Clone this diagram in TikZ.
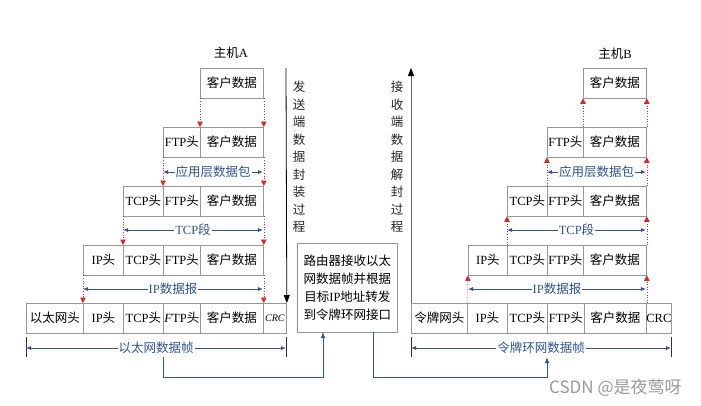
\documentclass[tikz,border=0pt]{standalone}
\usepackage{fontspec}
\setmainfont{Liberation Serif}
\newfontfamily\cjk{Noto Sans CJK SC}
\usetikzlibrary{arrows.meta}
\definecolor{dimblue}{RGB}{46,84,150}
\definecolor{boxgray}{RGB}{150,150,150}
\definecolor{reddot}{RGB}{215,40,40}
\newcommand\zh[1]{{\cjk #1}}
\newcommand\cellat[5]{\node[cell, minimum width={#3pt-#2pt}] (#1) at (#2,#4) {#5};}
\begin{document}
\begin{tikzpicture}[x=1pt,y=-1pt,
  cell/.style={draw=boxgray, line width=0.8pt, inner sep=0pt, anchor=north west, minimum height=29.5pt, font=\fontsize{12.5}{14}\selectfont},
  reddash/.style={draw=reddot, dotted, line width=0.6pt, -{Triangle[width=5.5pt,length=5.5pt,fill=reddot]}},
  dim/.style={draw=dimblue, line width=0.8pt, {Latex[length=5pt,width=4pt]}-{Latex[length=5pt,width=4pt]}},
  dimlabel/.style={fill=white, text=dimblue, inner xsep=1pt, inner ysep=0pt, font=\fontsize{12.5}{14}\selectfont},
  conn/.style={draw=dimblue, line width=0.8pt, -{Latex[length=6pt,width=4.5pt]}},
  tick/.style={draw=black!80, line width=0.7pt},
  vtext/.style={align=center, inner sep=0pt, anchor=north, font=\fontsize{12.5}{17.5}\selectfont\cjk, text=black!85},
  title/.style={font=\fontsize{12.5}{14}\selectfont, inner sep=0pt},
  mainarrow/.style={line width=0.8pt, -{Triangle[width=6pt,length=8pt,black]}}
]
\useasboundingbox[fill=white] (0,0) rectangle (701,405);

% ---------------- Host A ----------------
\node[title] (hostA) at (231,53) {\zh{主机}A};
\cellat{a1d}{200}{263}{68}{\zh{客户数据}}
\cellat{a2f}{163}{200}{127}{FTP\zh{头}}
\cellat{a2d}{200}{263}{127}{\zh{客户数据}}
\cellat{a3t}{123}{163}{186}{TCP\zh{头}}
\cellat{a3f}{163}{200}{186}{FTP\zh{头}}
\cellat{a3d}{200}{263}{186}{\zh{客户数据}}
\cellat{a4i}{83}{123}{245}{IP\zh{头}}
\cellat{a4t}{123}{163}{245}{TCP\zh{头}}
\cellat{a4f}{163}{200}{245}{FTP\zh{头}}
\cellat{a4d}{200}{263}{245}{\zh{客户数据}}
\cellat{a5e}{26}{83}{303}{\zh{以太网头}}
\cellat{a5i}{83}{123}{303}{IP\zh{头}}
\cellat{a5t}{123}{163}{303}{TCP\zh{头}}
\cellat{a5f}{163}{200}{303}{\textit{F}TP\zh{头}}
\cellat{a5d}{200}{263}{303}{\zh{客户数据}}
\cellat{a5c}{263}{286}{303}{\fontsize{10}{12}\selectfont\textit{CRC}}

\draw[reddash] (a1d.south west) -- (a2d.north west);
\draw[reddash] (a1d.south east) -- (a2d.north east);
\draw[reddash] (a2f.south west) -- (a3f.north west);
\draw[reddash] (a2d.south east) -- (a3d.north east);
\draw[reddash] (a3t.south west) -- (a4t.north west);
\draw[reddash] (a3d.south east) -- (a4d.north east);
\draw[reddash] (a4i.south west) -- (a5i.north west);
\draw[reddash] (a4d.south east) -- (a5d.north east);

\coordinate (la1) at (163,172); \coordinate (ra1) at (263,172);
\coordinate (la2) at (123,230); \coordinate (ra2) at (263,230);
\coordinate (la3) at (83,289);  \coordinate (ra3) at (263,289);
\draw[dim] (la1) -- (ra1) node[midway, dimlabel] (lblA1) {\zh{应用层数据包}};
\draw[dim] (la2) -- (ra2) node[midway, dimlabel] (lblA2) {TCP\zh{段}};
\draw[dim] (la3) -- (ra3) node[midway, dimlabel] (lblA3) {IP\zh{数据报}};

\coordinate (ta1) at (26,337); \coordinate (tb1) at (26,357);
\coordinate (ta2) at (286,337); \coordinate (tb2) at (286,357);
\draw[tick] (ta1) -- (tb1);
\draw[tick] (ta2) -- (tb2);
\coordinate (la4) at (26,348); \coordinate (ra4) at (286,348);
\draw[dim] (la4) -- (ra4) node[midway, dimlabel] (lblA4) {\zh{以太网数据帧}};

\coordinate (sendtop) at (286,68);
\draw[mainarrow] (sendtop) -- (a5c.north east);
\node[vtext] (sendtxt) at (299,81) {发\\送\\端\\数\\据\\封\\装\\过\\程};

% ---------------- Router ----------------
\node[draw=boxgray, line width=0.8pt, minimum width=100pt, minimum height=89pt, anchor=north west, align=center, inner sep=0pt,
      font=\fontsize{12.5}{18}\selectfont\cjk] (router) at (297,243)
      {路由器接收以太\\网数据帧并根据\\目标\textrm{IP}地址转发\\到令牌环网接口};

\coordinate (cA) at (163,357);
\coordinate (rin) at (323,332);
\coordinate (rout) at (373,332);
\coordinate (cB) at (547,357);
\draw[conn] (cA) -- ++(0,20) -| (rin);
\draw[conn] (rout) -- ++(0,45) -| (cB);

% ---------------- Host B ----------------
\node[title] (hostB) at (615,54) {\zh{主机}B};
\cellat{b1d}{583}{646}{68}{\zh{客户数据}}
\cellat{b2f}{547}{583}{127}{FTP\zh{头}}
\cellat{b2d}{583}{646}{127}{\zh{客户数据}}
\cellat{b3t}{507}{547}{186}{TCP\zh{头}}
\cellat{b3f}{547}{583}{186}{FTP\zh{头}}
\cellat{b3d}{583}{646}{186}{\zh{客户数据}}
\cellat{b4i}{468}{507}{245}{IP\zh{头}}
\cellat{b4t}{507}{547}{245}{TCP\zh{头}}
\cellat{b4f}{547}{583}{245}{FTP\zh{头}}
\cellat{b4d}{583}{646}{245}{\zh{客户数据}}
\cellat{b5e}{411}{467}{303}{\zh{令牌网头}}
\cellat{b5i}{467}{507}{303}{IP\zh{头}}
\cellat{b5t}{507}{547}{303}{TCP\zh{头}}
\cellat{b5f}{547}{584}{303}{FTP\zh{头}}
\cellat{b5d}{584}{646}{303}{\zh{客户数据}}
\cellat{b5c}{646}{671}{303}{CRC}

\draw[reddash] (b2d.north west) -- (b1d.south west);
\draw[reddash] (b2d.north east) -- (b1d.south east);
\draw[reddash] (b3f.north west) -- (b2f.south west);
\draw[reddash] (b3d.north east) -- (b2d.south east);
\draw[reddash] (b4t.north west) -- (b3t.south west);
\draw[reddash] (b4d.north east) -- (b3d.south east);
\draw[reddash] (b5i.north west) -- (b4i.south west);
\draw[reddash] (b5d.north east) -- (b4d.south east);

\coordinate (lb1) at (547,172); \coordinate (rb1) at (646,172);
\coordinate (lb2) at (507,230); \coordinate (rb2) at (646,230);
\coordinate (lb3) at (468,289); \coordinate (rb3) at (646,289);
\draw[dim] (lb1) -- (rb1) node[midway, dimlabel] (lblB1) {\zh{应用层数据包}};
\draw[dim] (lb2) -- (rb2) node[midway, dimlabel] (lblB2) {TCP\zh{段}};
\draw[dim] (lb3) -- (rb3) node[midway, dimlabel] (lblB3) {IP\zh{数据报}};

\coordinate (tc1) at (411,337); \coordinate (td1) at (411,357);
\coordinate (tc2) at (671,337); \coordinate (td2) at (671,357);
\draw[tick] (tc1) -- (td1);
\draw[tick] (tc2) -- (td2);
\coordinate (lb4) at (411,348); \coordinate (rb4) at (671,348);
\draw[dim] (lb4) -- (rb4) node[midway, dimlabel] (lblB4) {\zh{令牌环网数据帧}};

\coordinate (recvtop) at (411,68);
\draw[mainarrow, draw=black!60] (b5e.north west) -- (recvtop);
\node[vtext] (recvtxt) at (397,81) {接\\收\\端\\数\\据\\解\\封\\过\\程};

% watermark
\node[anchor=west, inner sep=0pt, text=black!40, font=\fontsize{17}{19}\selectfont\cjk] (wm) at (549,388) {CSDN @是夜莺呀};
\end{tikzpicture}
\end{document}
